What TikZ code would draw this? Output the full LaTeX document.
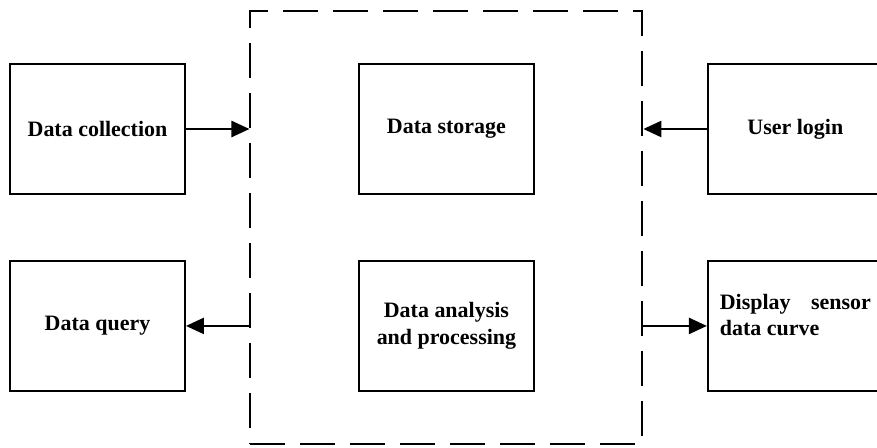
\documentclass[tikz,border=0pt]{standalone}
\usepackage{fontspec}
\setmainfont{Liberation Serif}
\usetikzlibrary{arrows.meta,positioning,fit}

\begin{document}
\begin{tikzpicture}[
    node distance=1.3cm and 3.44cm,
    box/.style={draw, line width=1.1pt, rectangle, minimum width=3.5cm, minimum height=2.6cm, align=center, font=\fontsize{12.5}{15}\selectfont\bfseries},
    frame/.style={draw, line width=1.1pt, dash pattern=on 0.7cm off 0.3cm},
    arrow/.style={-{Triangle[length=3.6mm, width=3.2mm]}, line width=1.4pt}
  ]
    \useasboundingbox (-1.95,2.58) rectangle ++(17.54,-8.94);

    % Clients on the left
    \node[box] (collect) at (0,0) {Data collection};
    \node[box, below=of collect] (query) {Data query};

    % Server side
    \node[box, right=of collect] (storage) {Data storage};
    \node[box, right=of query] (analysis) {Data analysis\\and processing};
    \node[frame, fit=(storage)(analysis), inner xsep=2.15cm, inner ysep=1.05cm] (system) {};

    % Clients on the right
    \node[box, right=of storage] (login) {User login};
    \node[box, right=of analysis] (display) {};
    \node[font=\fontsize{12.5}{15}\selectfont\bfseries, text width=3.02cm, align=justify, yshift=0.22cm] (displaytext) at (display) {Display sensor data curve};

    \draw[arrow] (collect.east) -- (collect.east -| system.west);
    \draw[arrow] (query.east -| system.west) -- (query.east);
    \draw[arrow] (login.west) -- (login.west -| system.east);
    \draw[arrow] (display.west -| system.east) -- (display.west);
  \end{tikzpicture}
\end{document}
